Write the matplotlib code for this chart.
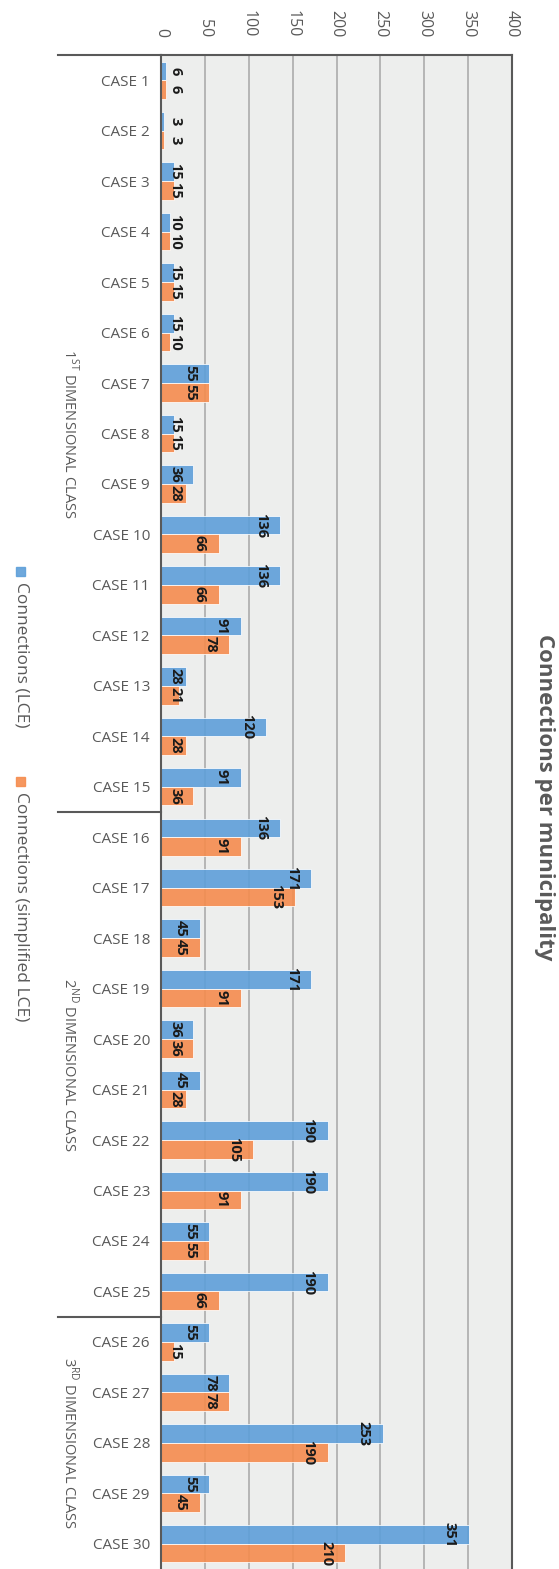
import numpy as np
import matplotlib; matplotlib.use('Agg')
import matplotlib.pyplot as plt
from matplotlib.patches import Rectangle
from matplotlib.transforms import blended_transform_factory

plt.rcParams['font.family'] = ['Open Sans', 'DejaVu Sans']

cases = [f'CASE {i}' for i in range(1, 31)]
lce = [6, 3, 15, 10, 15, 15, 55, 15, 36, 136, 136, 91, 28, 120, 91,
       136, 171, 45, 171, 36, 45, 190, 190, 55, 190,
       55, 78, 253, 55, 351]
simplified = [6, 3, 15, 10, 15, 10, 55, 15, 28, 66, 66, 78, 21, 28, 36,
              91, 153, 45, 91, 36, 28, 105, 91, 55, 66,
              15, 78, 190, 45, 210]
groups = [('1$^{\\mathregular{ST}}$ DIMENSIONAL CLASS', 0, 14),
          ('2$^{\\mathregular{ND}}$ DIMENSIONAL CLASS', 15, 24),
          ('3$^{\\mathregular{RD}}$ DIMENSIONAL CLASS', 25, 29)]
series = [('Connections (LCE)', lce, '#5E9FD9'),
          ('Connections (simplified LCE)', simplified, '#F58C4E')]

GREY = '#595959'
W, H = 559, 1569
fig = plt.figure(figsize=(W/100, H/100), dpi=100)
ax = fig.add_axes([161/W, 0, 351/W, 1-55/H])
ax.set_facecolor('#EDEEED')

y = np.arange(len(cases))
bh = 0.37
for k, (name, vals, col) in enumerate(series):
    pos = y - bh if k == 0 else y
    ax.barh(pos, vals, height=bh, align='edge', color=col, alpha=0.9,
            edgecolor='white', linewidth=0.6, zorder=2)
    for yy, v in zip(pos + bh/2, vals):
        ax.text(max(v - 14, 24), yy, str(v), rotation=-90, ha='right', va='center',
                fontsize=10.5, fontweight='bold', color='#1a1a1a', zorder=4)

ax.set_xlim(0, 400)
ax.set_ylim(len(cases) - 0.5, -0.5)
ax.set_xticks(range(0, 401, 50))
ax.xaxis.tick_top()
ax.tick_params(axis='x', length=0, pad=13, labelsize=11.5, labelcolor=GREY, labelrotation=-90)
ax.set_yticks(y)
ax.set_yticklabels(cases)
ax.tick_params(axis='y', length=0, pad=8, labelsize=11, labelcolor=GREY)
ax.grid(axis='x', color='#A6A6A6', linewidth=1.1, zorder=1)
ax.set_axisbelow(True)
for s in ('left', 'right', 'top'):
    ax.spines[s].set_color(GREY)
    ax.spines[s].set_linewidth(1.5)
ax.spines['bottom'].set_visible(False)

# group brackets and labels left of the category names
tr = blended_transform_factory(ax.transAxes, ax.transData)
x0 = (58 - 161) / 351
for label, a, b in groups:
    ax.plot([x0, 0], [a - 0.5, a - 0.5], color=GREY, lw=1.5, transform=tr, clip_on=False)
    ax.text((70 - 161) / 351, (a + b) / 2, label, transform=tr, rotation=-90,
            ha='center', va='center', fontsize=10.5, color=GREY)

fig.text(545/W, 1 - 797/H, 'Connections per municipality', rotation=-90,
         ha='center', va='center', fontsize=16, fontweight='bold', color=GREY)

# legend, written sideways
for (name, vals, col), sq, txt in zip(series, (567, 777), (582, 792)):
    fig.patches.append(Rectangle((16/W, 1 - (sq + 9)/H), 9/W, 9/H, color=col, alpha=0.9,
                                 transform=fig.transFigure, figure=fig))
    fig.text(21/W, 1 - txt/H, name, rotation=-90, ha='center', va='top',
             fontsize=12.5, color=GREY)

fig.savefig('out.png', dpi=100)
